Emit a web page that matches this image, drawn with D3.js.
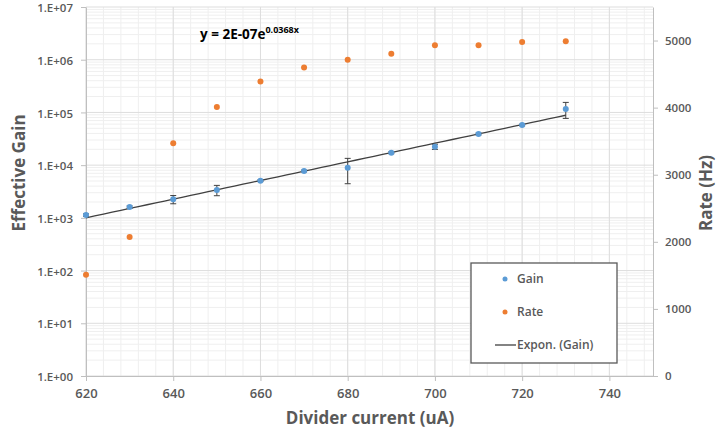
<!DOCTYPE html>
<html>
<head>
<meta charset="utf-8">
<script src="https://cdn.jsdelivr.net/npm/d3@7"></script>
<style>
  body { margin: 0; background: #fff; }
  text { font-family: "Open Sans", "Liberation Sans", sans-serif; }
</style>
</head>
<body>
<svg id="chart" width="721" height="434"></svg>
<script>
// Divider current (uA)
const current = [620, 630, 640, 650, 660, 670, 680, 690, 700, 710, 720, 730];
// Effective gain (left, log) and its error
const gain = [1130, 1600, 2250, 3380, 5070, 7740, 8940, 17200, 22400, 39000, 57700, 116000];
const gainErr = [60, 80, 400, 750, 200, 300, 4500, 700, 2500, 1500, 2000, 39000];
// Rate (Hz, right axis)
const rate = [1510, 2070, 3470, 4010, 4390, 4600, 4715, 4805, 4930, 4930, 4980, 4990];

const xTicks = [620, 640, 660, 680, 700, 720, 740];
const gainTicks = [1, 10, 100, 1e3, 1e4, 1e5, 1e6, 1e7];
const rateTicks = [0, 1000, 2000, 3000, 4000, 5000];
const legendItems = ['Gain', 'Rate', 'Expon. (Gain)'];
const equation = { base: 'y = 2E-07e', exp: '0.0368x' };

const svg = d3.select('#chart');
const pLeft = 86, pRight = 653, pTop = 7, pBottom = 376;
const grey = '#595959';

const x = d3.scaleLinear().domain([620, 750]).range([pLeft, pRight]);
const y = d3.scaleLog().domain([1, 1e7]).range([pBottom, pTop]);
const yR = d3.scaleLinear().domain([0, 5500]).range([pBottom, pTop]);

// minor grid
const grid = svg.append('g');
d3.range(620, 751, 4).forEach(v => {
    grid.append('line')
        .attr('x1', x(v)).attr('x2', x(v)).attr('y1', pTop).attr('y2', pBottom)
        .attr('stroke', '#efefef').attr('stroke-width', 1);
});
for (let d = 0; d < 7; d++) {
    for (let m = 2; m < 10; m++) {
        const v = m * Math.pow(10, d);
        grid.append('line')
            .attr('x1', pLeft).attr('x2', pRight).attr('y1', y(v)).attr('y2', y(v))
            .attr('stroke', '#efefef').attr('stroke-width', 1);
    }
}
// major grid
xTicks.forEach(v => {
    grid.append('line')
        .attr('x1', x(v)).attr('x2', x(v)).attr('y1', pTop).attr('y2', pBottom)
        .attr('stroke', '#dddddd').attr('stroke-width', 1);
});
gainTicks.forEach(v => {
    grid.append('line')
        .attr('x1', pLeft).attr('x2', pRight).attr('y1', y(v)).attr('y2', y(v))
        .attr('stroke', '#dddddd').attr('stroke-width', 1);
});

// axes
const axisStyle = g => {
    g.select('.domain').attr('stroke', '#bfbfbf');
    g.selectAll('.tick line').attr('stroke', '#bfbfbf');
    g.selectAll('.tick text').attr('fill', grey)
        .style('font-size', '11.5px').style('font-weight', '600');
};

svg.append('g')
    .attr('transform', `translate(0,${pBottom})`)
    .call(d3.axisBottom(x).tickValues(xTicks).tickSize(5).tickPadding(8).tickSizeOuter(0))
    .call(axisStyle)
    .selectAll('.tick text').style('font-size', '13px');

svg.append('g')
    .attr('transform', `translate(${pLeft},0)`)
    .call(d3.axisLeft(y).tickValues(gainTicks).tickSize(5).tickPadding(8).tickSizeOuter(0)
        .tickFormat(v => '1.E+' + String(Math.round(Math.log10(v))).padStart(2, '0')))
    .call(axisStyle)
    .selectAll('.tick text').attr('dy', '0.4em');

svg.append('g')
    .attr('transform', `translate(${pRight},0)`)
    .call(d3.axisRight(yR).tickValues(rateTicks).tickSize(5).tickPadding(7).tickSizeOuter(0)
        .tickFormat(d3.format('d')))
    .call(axisStyle);

// axis titles
svg.append('text')
    .attr('x', 370).attr('y', 424)
    .attr('text-anchor', 'middle')
    .attr('fill', grey)
    .style('font-size', '17px').style('font-weight', 'bold')
    .text('Divider current (uA)');

svg.append('text')
    .attr('transform', 'translate(25,173) rotate(-90)')
    .attr('text-anchor', 'middle')
    .attr('fill', grey)
    .style('font-size', '17px').style('font-weight', 'bold')
    .text('Effective Gain');

svg.append('text')
    .attr('transform', 'translate(712,193) rotate(-90)')
    .attr('text-anchor', 'middle')
    .attr('fill', grey)
    .style('font-size', '17px').style('font-weight', 'bold')
    .text('Rate (Hz)');

// exponential trendline: least squares on ln(gain)
const lnG = gain.map(Math.log);
const mx = d3.mean(current), my = d3.mean(lnG);
const b = d3.sum(current, (c, i) => (c - mx) * (lnG[i] - my)) / d3.sum(current, c => (c - mx) ** 2);
const a = Math.exp(my - b * mx);
const fitX = d3.range(620, 730.01, 2);
svg.append('path')
    .datum(fitX)
    .attr('fill', 'none')
    .attr('stroke', '#404040')
    .attr('stroke-width', 1.3)
    .attr('d', d3.line().x(d => x(d)).y(d => y(a * Math.exp(b * d))));

// error bars
const eb = svg.append('g').attr('stroke', '#404040').attr('stroke-width', 1);
current.forEach((c, i) => {
    const lo = y(Math.max(gain[i] - gainErr[i], 1)), hi = y(gain[i] + gainErr[i]);
    eb.append('line').attr('x1', x(c)).attr('x2', x(c)).attr('y1', lo).attr('y2', hi);
    eb.append('line').attr('x1', x(c) - 3).attr('x2', x(c) + 3).attr('y1', lo).attr('y2', lo);
    eb.append('line').attr('x1', x(c) - 3).attr('x2', x(c) + 3).attr('y1', hi).attr('y2', hi);
});

// gain points
svg.append('g').selectAll('circle')
    .data(current)
    .join('circle')
    .attr('cx', d => x(d))
    .attr('cy', (d, i) => y(gain[i]))
    .attr('r', 3)
    .attr('fill', '#5b9bd5');

// rate points
svg.append('g').selectAll('circle')
    .data(current)
    .join('circle')
    .attr('cx', d => x(d))
    .attr('cy', (d, i) => yR(rate[i]))
    .attr('r', 3)
    .attr('fill', '#ed7d31');

// equation label
const eq = svg.append('text')
    .attr('x', 200).attr('y', 39)
    .attr('fill', '#000')
    .style('font-size', '13.5px').style('font-weight', 'bold');
eq.append('tspan').text(equation.base);
eq.append('tspan').attr('dy', -6).style('font-size', '9px').text(equation.exp);

// legend
const lg = svg.append('g').attr('transform', 'translate(471,263)');
lg.append('rect')
    .attr('width', 146).attr('height', 100)
    .attr('fill', '#fff')
    .attr('stroke', grey).attr('stroke-width', 1.3);
legendItems.forEach((name, i) => {
    const cy = 16 + i * 33;
    if (i < 2) {
        lg.append('circle').attr('cx', 34).attr('cy', cy).attr('r', 2.5)
            .attr('fill', i === 0 ? '#5b9bd5' : '#ed7d31');
    } else {
        lg.append('line').attr('x1', 24).attr('x2', 45).attr('y1', cy).attr('y2', cy)
            .attr('stroke', '#404040').attr('stroke-width', 1.3);
    }
    lg.append('text')
        .attr('x', 46).attr('y', cy + 4)
        .attr('fill', grey)
        .style('font-size', '12px').style('font-weight', '600')
        .text(name);
});
</script>
</body>
</html>
